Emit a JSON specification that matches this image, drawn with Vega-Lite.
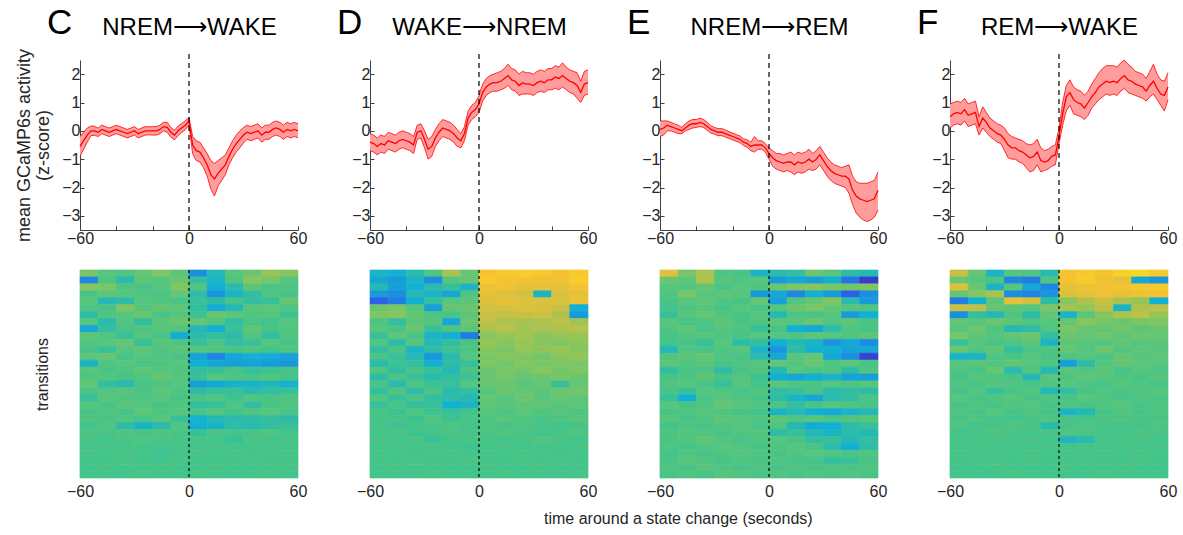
{
"$schema": "https://vega.github.io/schema/vega-lite/v6.json",
"padding": {"left": 15, "top": 6, "right": 4, "bottom": 6},
"background": "white",
"config": {
  "font": "Liberation Sans",
  "view": {"stroke": null},
  "axis": {"labelFont": "Liberation Sans", "titleFont": "Liberation Sans", "labelFontSize": 16, "labelColor": "#262626", "domainColor": "#404040", "tickColor": "#404040", "titleFontWeight": "normal", "titleColor": "#262626", "grid": false, "labelOverlap": false, "labelFlush": false},
  "title": {"font": "Liberation Sans", "fontWeight": "normal", "color": "#000000"}
},
"bounds": "flush",
"columns": 4,
"spacing": {"row": 40, "column": 72},
"title": {"text": "time around a state change (seconds)", "orient": "bottom", "anchor": "middle", "fontSize": 16, "color": "#262626", "offset": 12, "dx": 82},
"datasets": {
"C": [
{"t":-60,"m":-0.55,"l":-0.9,"h":-0.2},{"t":-58,"m":-0.35,"l":-0.65,"h":-0.05},{"t":-56,"m":-0.15,"l":-0.4,"h":0.1},{"t":-54,"m":0.0,"l":-0.17,"h":0.17},{"t":-52,"m":0.0,"l":-0.16,"h":0.16},{"t":-50,"m":-0.05,"l":-0.2,"h":0.1},{"t":-48,"m":0.05,"l":-0.1,"h":0.2},{"t":-46,"m":0.0,"l":-0.15,"h":0.15},{"t":-44,"m":-0.05,"l":-0.2,"h":0.1},{"t":-42,"m":0.0,"l":-0.15,"h":0.15},{"t":-40,"m":0.05,"l":-0.1,"h":0.2},{"t":-38,"m":0.0,"l":-0.15,"h":0.15},{"t":-36,"m":-0.05,"l":-0.2,"h":0.1},{"t":-34,"m":-0.1,"l":-0.25,"h":0.05},{"t":-32,"m":-0.05,"l":-0.2,"h":0.1},{"t":-30,"m":0.0,"l":-0.15,"h":0.15},{"t":-28,"m":-0.1,"l":-0.25,"h":0.05},{"t":-26,"m":-0.05,"l":-0.2,"h":0.1},{"t":-24,"m":0.0,"l":-0.15,"h":0.15},{"t":-22,"m":0.0,"l":-0.14,"h":0.14},{"t":-20,"m":0.0,"l":-0.15,"h":0.15},{"t":-18,"m":0.0,"l":-0.15,"h":0.15},{"t":-16,"m":0.05,"l":-0.1,"h":0.2},{"t":-14,"m":0.15,"l":0.0,"h":0.3},{"t":-12,"m":0.12,"l":-0.05,"h":0.3},{"t":-10,"m":-0.05,"l":-0.22,"h":0.12},{"t":-8,"m":-0.15,"l":-0.32,"h":0.02},{"t":-6,"m":0.0,"l":-0.17,"h":0.17},{"t":-4,"m":0.1,"l":-0.06,"h":0.26},{"t":-2,"m":0.2,"l":0.04,"h":0.36},{"t":0,"m":0.35,"l":0.22,"h":0.47},{"t":2,"m":-0.5,"l":-0.8,"h":-0.2},{"t":4,"m":-0.7,"l":-1.05,"h":-0.35},{"t":6,"m":-0.75,"l":-1.1,"h":-0.4},{"t":8,"m":-0.95,"l":-1.3,"h":-0.6},{"t":10,"m":-1.2,"l":-1.6,"h":-0.8},{"t":12,"m":-1.55,"l":-2.05,"h":-1.05},{"t":14,"m":-1.7,"l":-2.3,"h":-1.15},{"t":16,"m":-1.5,"l":-1.95,"h":-1.05},{"t":18,"m":-1.35,"l":-1.75,"h":-0.95},{"t":20,"m":-1.2,"l":-1.55,"h":-0.85},{"t":22,"m":-0.9,"l":-1.2,"h":-0.6},{"t":24,"m":-0.65,"l":-0.95,"h":-0.35},{"t":26,"m":-0.45,"l":-0.75,"h":-0.15},{"t":28,"m":-0.3,"l":-0.6,"h":0.0},{"t":30,"m":-0.15,"l":-0.42,"h":0.12},{"t":32,"m":-0.05,"l":-0.3,"h":0.2},{"t":34,"m":-0.1,"l":-0.35,"h":0.15},{"t":36,"m":-0.05,"l":-0.3,"h":0.2},{"t":38,"m":0.0,"l":-0.25,"h":0.25},{"t":40,"m":-0.15,"l":-0.4,"h":0.1},{"t":42,"m":-0.05,"l":-0.3,"h":0.2},{"t":44,"m":-0.05,"l":-0.3,"h":0.2},{"t":46,"m":0.05,"l":-0.2,"h":0.3},{"t":48,"m":0.1,"l":-0.15,"h":0.35},{"t":50,"m":0.05,"l":-0.2,"h":0.3},{"t":52,"m":-0.05,"l":-0.3,"h":0.2},{"t":54,"m":0.05,"l":-0.2,"h":0.3},{"t":56,"m":0.0,"l":-0.25,"h":0.25},{"t":58,"m":0.05,"l":-0.2,"h":0.3},{"t":60,"m":0.0,"l":-0.25,"h":0.25}
],
"D": [
{"t":-60,"m":-0.4,"l":-0.7,"h":-0.1},{"t":-58,"m":-0.45,"l":-0.75,"h":-0.15},{"t":-56,"m":-0.55,"l":-0.85,"h":-0.25},{"t":-54,"m":-0.45,"l":-0.75,"h":-0.15},{"t":-52,"m":-0.5,"l":-0.8,"h":-0.2},{"t":-50,"m":-0.35,"l":-0.65,"h":-0.05},{"t":-48,"m":-0.4,"l":-0.7,"h":-0.1},{"t":-46,"m":-0.45,"l":-0.75,"h":-0.15},{"t":-44,"m":-0.35,"l":-0.65,"h":-0.05},{"t":-42,"m":-0.3,"l":-0.6,"h":0.0},{"t":-40,"m":-0.35,"l":-0.65,"h":-0.05},{"t":-38,"m":-0.4,"l":-0.7,"h":-0.1},{"t":-36,"m":-0.5,"l":-0.8,"h":-0.2},{"t":-34,"m":-0.05,"l":-0.3,"h":0.2},{"t":-32,"m":0.0,"l":-0.25,"h":0.25},{"t":-30,"m":-0.3,"l":-0.6,"h":0.0},{"t":-28,"m":-0.65,"l":-1.0,"h":-0.3},{"t":-26,"m":-0.55,"l":-0.9,"h":-0.2},{"t":-24,"m":-0.25,"l":-0.55,"h":0.05},{"t":-22,"m":-0.05,"l":-0.35,"h":0.25},{"t":-20,"m":0.1,"l":-0.2,"h":0.4},{"t":-18,"m":0.05,"l":-0.25,"h":0.35},{"t":-16,"m":0.0,"l":-0.3,"h":0.3},{"t":-14,"m":-0.1,"l":-0.4,"h":0.2},{"t":-12,"m":-0.25,"l":-0.55,"h":0.05},{"t":-10,"m":-0.35,"l":-0.6,"h":-0.1},{"t":-8,"m":-0.1,"l":-0.35,"h":0.15},{"t":-6,"m":0.45,"l":0.2,"h":0.7},{"t":-4,"m":0.65,"l":0.4,"h":0.9},{"t":-2,"m":0.75,"l":0.5,"h":1.0},{"t":0,"m":0.95,"l":0.65,"h":1.25},{"t":2,"m":1.35,"l":1.05,"h":1.65},{"t":4,"m":1.55,"l":1.25,"h":1.85},{"t":6,"m":1.65,"l":1.35,"h":1.95},{"t":8,"m":1.7,"l":1.4,"h":2.0},{"t":10,"m":1.7,"l":1.4,"h":2.05},{"t":12,"m":1.75,"l":1.45,"h":2.1},{"t":14,"m":1.85,"l":1.5,"h":2.2},{"t":16,"m":1.95,"l":1.6,"h":2.35},{"t":18,"m":1.8,"l":1.45,"h":2.2},{"t":20,"m":1.75,"l":1.4,"h":2.15},{"t":22,"m":1.6,"l":1.25,"h":2.0},{"t":24,"m":1.7,"l":1.3,"h":2.1},{"t":26,"m":1.65,"l":1.3,"h":2.05},{"t":28,"m":1.65,"l":1.3,"h":2.05},{"t":30,"m":1.6,"l":1.25,"h":2.0},{"t":32,"m":1.7,"l":1.35,"h":2.1},{"t":34,"m":1.75,"l":1.4,"h":2.15},{"t":36,"m":1.7,"l":1.35,"h":2.1},{"t":38,"m":1.8,"l":1.45,"h":2.2},{"t":40,"m":1.8,"l":1.45,"h":2.2},{"t":42,"m":1.9,"l":1.5,"h":2.3},{"t":44,"m":1.85,"l":1.45,"h":2.25},{"t":46,"m":1.95,"l":1.55,"h":2.4},{"t":48,"m":1.85,"l":1.45,"h":2.25},{"t":50,"m":1.75,"l":1.35,"h":2.15},{"t":52,"m":1.7,"l":1.3,"h":2.1},{"t":54,"m":1.6,"l":1.15,"h":2.05},{"t":56,"m":1.35,"l":1.0,"h":1.75},{"t":58,"m":1.65,"l":1.25,"h":2.1},{"t":60,"m":1.7,"l":1.3,"h":2.15}
],
"E": [
{"t":-60,"m":0.05,"l":-0.2,"h":0.35},{"t":-58,"m":0.1,"l":-0.15,"h":0.35},{"t":-56,"m":0.2,"l":0.0,"h":0.35},{"t":-54,"m":0.15,"l":0.0,"h":0.3},{"t":-52,"m":0.1,"l":-0.05,"h":0.25},{"t":-50,"m":0.05,"l":-0.1,"h":0.2},{"t":-48,"m":0.0,"l":-0.1,"h":0.12},{"t":-46,"m":0.1,"l":0.0,"h":0.25},{"t":-44,"m":0.2,"l":0.05,"h":0.35},{"t":-42,"m":0.25,"l":0.1,"h":0.4},{"t":-40,"m":0.25,"l":0.12,"h":0.4},{"t":-38,"m":0.3,"l":0.15,"h":0.45},{"t":-36,"m":0.25,"l":0.12,"h":0.4},{"t":-34,"m":0.15,"l":0.02,"h":0.3},{"t":-32,"m":0.05,"l":-0.08,"h":0.18},{"t":-30,"m":0.0,"l":-0.12,"h":0.12},{"t":-28,"m":-0.05,"l":-0.17,"h":0.08},{"t":-26,"m":-0.05,"l":-0.17,"h":0.08},{"t":-24,"m":-0.1,"l":-0.22,"h":0.03},{"t":-22,"m":-0.15,"l":-0.27,"h":-0.03},{"t":-20,"m":-0.2,"l":-0.32,"h":-0.08},{"t":-18,"m":-0.25,"l":-0.37,"h":-0.13},{"t":-16,"m":-0.3,"l":-0.42,"h":-0.18},{"t":-14,"m":-0.4,"l":-0.52,"h":-0.28},{"t":-12,"m":-0.45,"l":-0.58,"h":-0.32},{"t":-10,"m":-0.55,"l":-0.7,"h":-0.4},{"t":-8,"m":-0.5,"l":-0.75,"h":-0.2},{"t":-6,"m":-0.5,"l":-0.65,"h":-0.35},{"t":-4,"m":-0.5,"l":-0.65,"h":-0.35},{"t":-2,"m":-0.6,"l":-0.75,"h":-0.45},{"t":0,"m":-0.8,"l":-1.0,"h":-0.6},{"t":2,"m":-0.95,"l":-1.25,"h":-0.7},{"t":4,"m":-1.05,"l":-1.35,"h":-0.8},{"t":6,"m":-1.1,"l":-1.4,"h":-0.8},{"t":8,"m":-1.15,"l":-1.45,"h":-0.85},{"t":10,"m":-1.1,"l":-1.4,"h":-0.8},{"t":12,"m":-1.1,"l":-1.45,"h":-0.75},{"t":14,"m":-1.2,"l":-1.55,"h":-0.85},{"t":16,"m":-1.1,"l":-1.45,"h":-0.75},{"t":18,"m":-1.15,"l":-1.5,"h":-0.8},{"t":20,"m":-1.1,"l":-1.45,"h":-0.75},{"t":22,"m":-1.0,"l":-1.35,"h":-0.65},{"t":24,"m":-1.1,"l":-1.4,"h":-0.8},{"t":26,"m":-1.0,"l":-1.35,"h":-0.7},{"t":28,"m":-0.85,"l":-1.2,"h":-0.55},{"t":30,"m":-1.05,"l":-1.4,"h":-0.75},{"t":32,"m":-1.25,"l":-1.6,"h":-0.95},{"t":34,"m":-1.4,"l":-1.75,"h":-1.1},{"t":36,"m":-1.5,"l":-1.85,"h":-1.2},{"t":38,"m":-1.55,"l":-1.9,"h":-1.25},{"t":40,"m":-1.6,"l":-1.95,"h":-1.3},{"t":42,"m":-1.6,"l":-2.0,"h":-1.25},{"t":44,"m":-1.7,"l":-2.2,"h":-1.2},{"t":46,"m":-2.1,"l":-2.6,"h":-1.6},{"t":48,"m":-2.3,"l":-2.9,"h":-1.8},{"t":50,"m":-2.4,"l":-3.05,"h":-1.85},{"t":52,"m":-2.45,"l":-3.15,"h":-1.85},{"t":54,"m":-2.5,"l":-3.2,"h":-1.85},{"t":56,"m":-2.45,"l":-3.15,"h":-1.8},{"t":58,"m":-2.4,"l":-3.05,"h":-1.75},{"t":60,"m":-2.1,"l":-2.8,"h":-1.45}
],
"F": [
{"t":-60,"m":0.5,"l":0.1,"h":0.95},{"t":-58,"m":0.6,"l":0.2,"h":1.0},{"t":-56,"m":0.65,"l":0.25,"h":1.05},{"t":-54,"m":0.6,"l":0.2,"h":1.0},{"t":-52,"m":0.75,"l":0.35,"h":1.15},{"t":-50,"m":0.55,"l":0.15,"h":0.95},{"t":-48,"m":0.6,"l":0.2,"h":1.0},{"t":-46,"m":0.65,"l":0.25,"h":1.05},{"t":-44,"m":0.15,"l":-0.15,"h":0.5},{"t":-42,"m":0.45,"l":0.1,"h":0.85},{"t":-40,"m":0.3,"l":-0.05,"h":0.65},{"t":-38,"m":0.1,"l":-0.2,"h":0.45},{"t":-36,"m":0.0,"l":-0.3,"h":0.35},{"t":-34,"m":-0.1,"l":-0.4,"h":0.25},{"t":-32,"m":-0.15,"l":-0.45,"h":0.2},{"t":-30,"m":-0.3,"l":-0.7,"h":0.1},{"t":-28,"m":-0.5,"l":-0.95,"h":-0.1},{"t":-26,"m":-0.6,"l":-1.0,"h":-0.2},{"t":-24,"m":-0.6,"l":-1.0,"h":-0.25},{"t":-22,"m":-0.7,"l":-1.1,"h":-0.3},{"t":-20,"m":-0.75,"l":-1.15,"h":-0.35},{"t":-18,"m":-0.85,"l":-1.3,"h":-0.45},{"t":-16,"m":-0.95,"l":-1.45,"h":-0.5},{"t":-14,"m":-0.9,"l":-1.4,"h":-0.45},{"t":-12,"m":-0.75,"l":-1.2,"h":-0.3},{"t":-10,"m":-1.05,"l":-1.45,"h":-0.6},{"t":-8,"m":-1.1,"l":-1.4,"h":-0.7},{"t":-6,"m":-1.05,"l":-1.35,"h":-0.65},{"t":-4,"m":-0.9,"l":-1.25,"h":-0.55},{"t":-2,"m":-0.85,"l":-1.2,"h":-0.5},{"t":0,"m":-0.2,"l":-0.45,"h":0.1},{"t":2,"m":0.6,"l":0.2,"h":1.0},{"t":4,"m":1.2,"l":0.7,"h":1.6},{"t":6,"m":1.35,"l":0.9,"h":1.8},{"t":8,"m":1.1,"l":0.6,"h":1.55},{"t":10,"m":1.0,"l":0.55,"h":1.45},{"t":12,"m":0.95,"l":0.5,"h":1.4},{"t":14,"m":0.8,"l":0.4,"h":1.25},{"t":16,"m":1.0,"l":0.55,"h":1.4},{"t":18,"m":1.2,"l":0.8,"h":1.65},{"t":20,"m":1.35,"l":0.95,"h":1.85},{"t":22,"m":1.55,"l":1.1,"h":2.05},{"t":24,"m":1.65,"l":1.2,"h":2.2},{"t":26,"m":1.75,"l":1.3,"h":2.3},{"t":28,"m":1.7,"l":1.25,"h":2.3},{"t":30,"m":1.75,"l":1.3,"h":2.3},{"t":32,"m":1.7,"l":1.25,"h":2.25},{"t":34,"m":1.85,"l":1.4,"h":2.4},{"t":36,"m":1.95,"l":1.5,"h":2.5},{"t":38,"m":1.8,"l":1.35,"h":2.35},{"t":40,"m":1.75,"l":1.3,"h":2.25},{"t":42,"m":1.65,"l":1.25,"h":2.1},{"t":44,"m":1.6,"l":1.2,"h":2.05},{"t":46,"m":1.55,"l":1.15,"h":2.0},{"t":48,"m":1.4,"l":1.05,"h":1.85},{"t":50,"m":1.6,"l":1.2,"h":2.1},{"t":52,"m":1.75,"l":1.3,"h":2.35},{"t":54,"m":1.5,"l":1.1,"h":2.0},{"t":56,"m":1.3,"l":0.9,"h":1.8},{"t":58,"m":1.25,"l":0.7,"h":1.75},{"t":60,"m":1.55,"l":1.1,"h":2.05}
],
"hC": [
{"r":1,"a":0.8,"b":0.3,"c":0.2,"d":0.5,"e":0.9,"f":0.4,"g":-1.8,"h":-0.6,"i":0.3,"j":0.6,"k":1.2,"l":1.0},
{"r":2,"a":-2.0,"b":0.2,"c":-0.5,"d":0.4,"e":0.3,"f":0.6,"g":-0.3,"h":-0.8,"i":0.2,"j":1.0,"k":0.8,"l":0.3},
{"r":3,"a":1.0,"b":0.8,"c":0.2,"d":0.1,"e":0.3,"f":0.9,"g":0.2,"h":-1.0,"i":-0.5,"j":0.4,"k":0.1,"l":0.2},
{"r":4,"a":0.1,"b":0.4,"c":0.3,"d":0.2,"e":0.1,"f":0.5,"g":-0.4,"h":-1.6,"i":-0.8,"j":-0.3,"k":0.2,"l":0.1},
{"r":5,"a":0.3,"b":-0.6,"c":-0.4,"d":0.3,"e":0.2,"f":0.1,"g":-0.2,"h":-0.4,"i":0.0,"j":-0.3,"k":-0.2,"l":0.5},
{"r":6,"a":0.2,"b":0.1,"c":0.9,"d":0.3,"e":0.5,"f":0.4,"g":-0.3,"h":-1.1,"i":-0.6,"j":0.3,"k":0.4,"l":0.2},
{"r":7,"a":-0.4,"b":0.2,"c":0.3,"d":0.6,"e":0.1,"f":0.3,"g":-0.1,"h":0.6,"i":0.4,"j":0.2,"k":0.3,"l":-0.1},
{"r":8,"a":0.3,"b":-0.5,"c":0.2,"d":-0.3,"e":0.4,"f":0.6,"g":0.5,"h":0.2,"i":-0.3,"j":0.1,"k":0.0,"l":0.3},
{"r":9,"a":-1.2,"b":-0.3,"c":0.1,"d":0.2,"e":0.3,"f":0.2,"g":-0.6,"h":-1.0,"i":-0.2,"j":0.4,"k":0.1,"l":0.2},
{"r":10,"a":0.4,"b":0.2,"c":-0.2,"d":0.3,"e":0.1,"f":-1.1,"g":-0.5,"h":-0.3,"i":-0.4,"j":0.2,"k":-0.3,"l":0.2},
{"r":11,"a":0.2,"b":0.3,"c":0.5,"d":-0.2,"e":0.3,"f":0.2,"g":-0.2,"h":0.1,"i":-0.3,"j":-0.2,"k":0.3,"l":0.1},
{"r":12,"a":0.1,"b":-0.2,"c":0.3,"d":0.4,"e":0.2,"f":0.4,"g":0.3,"h":0.2,"i":0.1,"j":0.2,"k":0.0,"l":0.2},
{"r":13,"a":0.4,"b":0.5,"c":0.1,"d":0.3,"e":0.2,"f":0.1,"g":-1.3,"h":-2.0,"i":-1.2,"j":-1.0,"k":-1.1,"l":-1.3},
{"r":14,"a":-0.8,"b":0.2,"c":0.3,"d":0.1,"e":0.2,"f":0.3,"g":-1.0,"h":-1.2,"i":-1.4,"j":-1.3,"k":-1.5,"l":-1.6},
{"r":15,"a":0.3,"b":0.1,"c":0.2,"d":0.4,"e":0.3,"f":0.2,"g":-0.3,"h":-0.2,"i":0.1,"j":-0.2,"k":-0.1,"l":0.1},
{"r":16,"a":0.2,"b":0.3,"c":0.1,"d":0.2,"e":0.5,"f":0.3,"g":-0.2,"h":0.3,"i":0.2,"j":0.1,"k":0.2,"l":0.0},
{"r":17,"a":0.5,"b":-0.3,"c":-0.5,"d":0.1,"e":0.2,"f":0.3,"g":-1.4,"h":-1.2,"i":-0.9,"j":-0.8,"k":-0.7,"l":-0.9},
{"r":18,"a":0.1,"b":0.2,"c":0.3,"d":0.1,"e":0.4,"f":0.2,"g":-0.4,"h":-0.3,"i":-0.2,"j":-0.5,"k":-0.3,"l":-0.2},
{"r":19,"a":-0.2,"b":0.3,"c":0.2,"d":0.2,"e":0.3,"f":0.1,"g":0.1,"h":0.2,"i":-0.1,"j":0.2,"k":0.1,"l":0.2},
{"r":20,"a":0.3,"b":0.1,"c":0.4,"d":0.3,"e":0.1,"f":0.2,"g":-0.3,"h":-0.2,"i":0.2,"j":-0.3,"k":0.1,"l":0.2},
{"r":21,"a":0.1,"b":0.2,"c":0.1,"d":0.4,"e":0.2,"f":0.3,"g":0.1,"h":0.3,"i":0.0,"j":0.2,"k":0.3,"l":0.1},
{"r":22,"a":0.2,"b":0.1,"c":0.2,"d":0.0,"e":0.3,"f":-0.2,"g":-0.9,"h":-0.6,"i":-0.5,"j":-0.4,"k":-0.3,"l":-0.4},
{"r":23,"a":0.0,"b":0.2,"c":-0.4,"d":-0.8,"e":-0.5,"f":0.2,"g":-1.0,"h":-0.8,"i":-0.4,"j":-0.5,"k":-0.3,"l":-0.2},
{"r":24,"a":0.2,"b":0.1,"c":0.2,"d":0.1,"e":0.2,"f":0.1,"g":-0.2,"h":0.1,"i":0.0,"j":0.1,"k":0.2,"l":0.0},
{"r":25,"a":0.1,"b":0.0,"c":0.1,"d":0.2,"e":0.1,"f":0.0,"g":0.1,"h":0.0,"i":-0.2,"j":0.1,"k":0.0,"l":0.1},
{"r":26,"a":0.0,"b":0.1,"c":0.0,"d":0.1,"e":0.0,"f":0.1,"g":0.0,"h":0.1,"i":0.0,"j":0.0,"k":0.1,"l":0.0},
{"r":27,"a":0.1,"b":0.0,"c":0.1,"d":0.0,"e":-0.1,"f":0.0,"g":0.1,"h":0.0,"i":0.1,"j":0.0,"k":0.0,"l":0.1},
{"r":28,"a":0.0,"b":0.0,"c":0.1,"d":0.0,"e":0.0,"f":0.1,"g":0.0,"h":0.0,"i":0.0,"j":0.1,"k":0.0,"l":0.0},
{"r":29,"a":0.0,"b":0.1,"c":0.0,"d":0.0,"e":0.1,"f":0.0,"g":0.0,"h":0.1,"i":0.0,"j":0.0,"k":0.0,"l":0.1},
{"r":30,"a":0.0,"b":0.0,"c":0.0,"d":0.1,"e":0.0,"f":0.0,"g":0.1,"h":0.0,"i":0.0,"j":0.0,"k":0.1,"l":0.0}
],
"hD": [
{"r":1,"a":-0.8,"b":-1.0,"c":-0.5,"d":0.2,"e":1.5,"f":0.5,"g":3.0,"h":3.2,"i":3.3,"j":3.2,"k":3.0,"l":3.2},
{"r":2,"a":-1.2,"b":-1.5,"c":-0.8,"d":-1.8,"e":0.3,"f":0.6,"g":3.2,"h":3.0,"i":3.0,"j":2.8,"k":2.9,"l":3.3},
{"r":3,"a":-0.6,"b":-1.4,"c":-1.0,"d":-0.5,"e":-0.2,"f":-0.8,"g":2.8,"h":2.9,"i":2.6,"j":2.7,"k":2.6,"l":3.0},
{"r":4,"a":-1.5,"b":-1.8,"c":-0.6,"d":-0.8,"e":-1.2,"f":0.2,"g":2.6,"h":2.5,"i":2.2,"j":-0.8,"k":2.4,"l":2.6},
{"r":5,"a":-2.8,"b":-2.2,"c":-1.0,"d":-0.3,"e":0.3,"f":0.4,"g":2.4,"h":2.6,"i":2.5,"j":2.4,"k":2.3,"l":2.8},
{"r":6,"a":0.6,"b":0.8,"c":0.3,"d":-1.4,"e":0.5,"f":0.6,"g":2.2,"h":2.3,"i":2.4,"j":2.3,"k":2.0,"l":-1.0},
{"r":7,"a":0.9,"b":1.0,"c":0.5,"d":0.2,"e":0.1,"f":0.4,"g":2.0,"h":1.9,"i":2.0,"j":2.1,"k":1.6,"l":-1.5},
{"r":8,"a":0.2,"b":-0.3,"c":0.4,"d":0.3,"e":-1.2,"f":0.6,"g":1.8,"h":1.6,"i":1.5,"j":1.6,"k":1.8,"l":1.4},
{"r":9,"a":0.3,"b":0.1,"c":0.6,"d":-0.2,"e":0.2,"f":0.4,"g":1.6,"h":1.8,"i":1.4,"j":1.5,"k":1.6,"l":1.7},
{"r":10,"a":-0.2,"b":0.4,"c":0.1,"d":-0.8,"e":-1.0,"f":-2.2,"g":1.0,"h":1.2,"i":1.4,"j":1.1,"k":1.2,"l":1.3},
{"r":11,"a":0.2,"b":-0.4,"c":0.3,"d":-0.6,"e":-0.3,"f":0.1,"g":1.2,"h":1.0,"i":1.3,"j":1.0,"k":0.9,"l":1.1},
{"r":12,"a":-0.3,"b":0.1,"c":-0.8,"d":-0.4,"e":-0.1,"f":0.2,"g":1.0,"h":0.8,"i":1.2,"j":1.1,"k":1.3,"l":1.0},
{"r":13,"a":0.1,"b":-0.2,"c":-0.6,"d":-1.6,"e":-0.5,"f":0.3,"g":0.8,"h":1.0,"i":0.9,"j":0.7,"k":1.0,"l":1.2},
{"r":14,"a":-0.5,"b":-0.1,"c":-0.3,"d":-1.0,"e":-0.4,"f":-0.2,"g":0.9,"h":0.7,"i":1.0,"j":0.8,"k":0.9,"l":0.8},
{"r":15,"a":0.2,"b":-0.3,"c":0.1,"d":-0.2,"e":-0.6,"f":0.1,"g":0.6,"h":0.8,"i":0.7,"j":1.0,"k":0.7,"l":0.9},
{"r":16,"a":-0.4,"b":0.1,"c":-0.2,"d":-0.5,"e":-0.3,"f":-0.1,"g":0.6,"h":0.7,"i":0.5,"j":0.6,"k":0.8,"l":0.6},
{"r":17,"a":0.1,"b":-0.5,"c":0.2,"d":-0.1,"e":-0.2,"f":0.3,"g":0.5,"h":0.6,"i":0.4,"j":0.5,"k":-0.2,"l":0.5},
{"r":18,"a":-0.3,"b":0.2,"c":-0.4,"d":0.1,"e":-0.5,"f":-0.3,"g":0.3,"h":0.6,"i":0.5,"j":0.4,"k":0.6,"l":0.7},
{"r":19,"a":0.2,"b":-0.2,"c":0.1,"d":-0.3,"e":-0.4,"f":-0.6,"g":0.5,"h":0.3,"i":0.6,"j":0.3,"k":0.5,"l":0.4},
{"r":20,"a":-0.2,"b":0.1,"c":-0.3,"d":-0.2,"e":-1.0,"f":-0.8,"g":0.4,"h":0.3,"i":0.4,"j":0.5,"k":0.3,"l":0.4},
{"r":21,"a":0.1,"b":-0.1,"c":0.2,"d":-0.1,"e":-0.2,"f":0.0,"g":0.3,"h":0.2,"i":0.4,"j":0.2,"k":0.3,"l":0.2},
{"r":22,"a":0.0,"b":0.1,"c":-0.1,"d":0.2,"e":-0.1,"f":0.1,"g":0.2,"h":0.3,"i":0.2,"j":0.1,"k":0.2,"l":0.3},
{"r":23,"a":0.1,"b":-0.1,"c":0.0,"d":0.1,"e":0.2,"f":0.0,"g":0.2,"h":0.1,"i":0.2,"j":0.1,"k":0.0,"l":0.1},
{"r":24,"a":0.0,"b":0.1,"c":-0.1,"d":0.0,"e":0.1,"f":0.1,"g":0.1,"h":0.2,"i":0.1,"j":0.0,"k":0.1,"l":0.2},
{"r":25,"a":0.1,"b":0.0,"c":0.1,"d":-0.2,"e":0.0,"f":0.1,"g":0.1,"h":0.0,"i":0.1,"j":0.2,"k":0.1,"l":0.0},
{"r":26,"a":0.0,"b":0.1,"c":0.0,"d":0.1,"e":0.0,"f":-0.1,"g":0.0,"h":0.1,"i":0.0,"j":0.1,"k":0.0,"l":0.1},
{"r":27,"a":0.1,"b":0.0,"c":0.0,"d":0.0,"e":0.1,"f":0.0,"g":0.1,"h":0.0,"i":0.1,"j":0.0,"k":0.0,"l":0.0},
{"r":28,"a":0.0,"b":0.0,"c":0.1,"d":0.0,"e":0.0,"f":0.1,"g":0.0,"h":0.0,"i":0.1,"j":0.0,"k":0.1,"l":0.0},
{"r":29,"a":0.0,"b":0.1,"c":0.0,"d":0.0,"e":0.0,"f":0.0,"g":0.1,"h":0.0,"i":0.0,"j":0.1,"k":0.0,"l":0.0},
{"r":30,"a":0.0,"b":0.0,"c":0.0,"d":0.1,"e":0.0,"f":0.0,"g":0.0,"h":0.1,"i":0.0,"j":0.0,"k":0.0,"l":0.1}
],
"hE": [
{"r":1,"a":2.5,"b":0.8,"c":1.5,"d":0.2,"e":0.1,"f":-0.8,"g":-0.5,"h":-0.3,"i":0.6,"j":0.3,"k":-0.4,"l":-0.6},
{"r":2,"a":0.6,"b":0.4,"c":1.6,"d":0.3,"e":0.2,"f":0.3,"g":-1.5,"h":-1.2,"i":-1.4,"j":-1.0,"k":-2.4,"l":-3.6},
{"r":3,"a":0.3,"b":0.2,"c":0.5,"d":0.1,"e":0.3,"f":0.2,"g":0.6,"h":0.9,"i":1.0,"j":0.8,"k":0.7,"l":0.9},
{"r":4,"a":0.2,"b":0.8,"c":0.3,"d":0.4,"e":0.3,"f":-1.5,"g":-1.2,"h":-2.0,"i":-1.0,"j":-1.5,"k":-2.8,"l":-1.8},
{"r":5,"a":0.1,"b":0.3,"c":0.4,"d":0.2,"e":0.1,"f":0.5,"g":-1.4,"h":0.2,"i":0.5,"j":0.9,"k":-0.5,"l":-1.5},
{"r":6,"a":0.0,"b":0.2,"c":0.3,"d":0.1,"e":0.3,"f":0.1,"g":0.3,"h":0.6,"i":0.8,"j":0.5,"k":0.3,"l":0.2},
{"r":7,"a":-0.2,"b":0.3,"c":0.5,"d":0.2,"e":0.1,"f":0.3,"g":-0.6,"h":0.2,"i":0.1,"j":0.3,"k":-1.5,"l":-1.0},
{"r":8,"a":0.3,"b":0.1,"c":0.2,"d":0.4,"e":0.1,"f":0.2,"g":0.4,"h":0.3,"i":0.6,"j":0.2,"k":0.4,"l":0.1},
{"r":9,"a":0.2,"b":0.4,"c":0.1,"d":0.3,"e":0.2,"f":-0.2,"g":0.1,"h":-1.0,"i":-1.2,"j":-0.4,"k":0.2,"l":0.1},
{"r":10,"a":0.1,"b":0.2,"c":0.3,"d":0.2,"e":0.1,"f":0.3,"g":0.3,"h":0.2,"i":0.4,"j":0.3,"k":0.2,"l":0.4},
{"r":11,"a":0.0,"b":0.1,"c":-0.2,"d":0.3,"e":-0.4,"f":-0.3,"g":-1.0,"h":-0.6,"i":-0.8,"j":-1.6,"k":-1.2,"l":-1.8},
{"r":12,"a":-0.6,"b":0.2,"c":0.1,"d":0.2,"e":0.3,"f":-0.8,"g":-1.6,"h":-0.4,"i":-1.0,"j":-1.0,"k":-1.3,"l":-1.2},
{"r":13,"a":0.2,"b":0.4,"c":0.5,"d":0.2,"e":0.1,"f":-0.5,"g":-1.2,"h":0.3,"i":0.5,"j":-1.2,"k":-1.8,"l":-3.5},
{"r":14,"a":0.4,"b":0.2,"c":0.3,"d":0.1,"e":0.2,"f":0.3,"g":0.5,"h":0.3,"i":0.6,"j":0.2,"k":0.4,"l":0.1},
{"r":15,"a":-0.3,"b":0.1,"c":0.2,"d":-0.4,"e":0.1,"f":0.2,"g":-0.6,"h":0.3,"i":0.1,"j":0.2,"k":-0.4,"l":0.2},
{"r":16,"a":0.1,"b":0.2,"c":0.4,"d":0.1,"e":0.3,"f":-0.1,"g":-1.0,"h":-1.2,"i":-1.0,"j":-0.8,"k":-1.3,"l":-1.4},
{"r":17,"a":0.2,"b":0.3,"c":0.1,"d":-0.2,"e":0.3,"f":0.0,"g":0.4,"h":0.2,"i":0.1,"j":0.3,"k":0.2,"l":0.3},
{"r":18,"a":0.1,"b":-0.2,"c":0.3,"d":0.2,"e":0.1,"f":0.2,"g":-0.3,"h":-0.2,"i":0.1,"j":-0.5,"k":-0.3,"l":-0.4},
{"r":19,"a":-0.2,"b":-1.0,"c":0.1,"d":0.3,"e":0.2,"f":0.1,"g":-0.4,"h":-0.8,"i":-1.2,"j":-0.5,"k":-0.3,"l":0.1},
{"r":20,"a":0.3,"b":0.1,"c":0.2,"d":0.5,"e":0.3,"f":0.2,"g":0.2,"h":-0.3,"i":0.1,"j":0.3,"k":0.2,"l":0.1},
{"r":21,"a":0.1,"b":0.2,"c":0.3,"d":0.2,"e":0.1,"f":0.0,"g":-0.8,"h":-0.6,"i":-1.0,"j":-1.2,"k":-0.8,"l":-0.6},
{"r":22,"a":0.3,"b":0.1,"c":0.2,"d":0.4,"e":0.3,"f":0.2,"g":0.4,"h":0.2,"i":0.3,"j":0.1,"k":0.2,"l":0.3},
{"r":23,"a":0.0,"b":0.2,"c":0.1,"d":0.2,"e":0.3,"f":0.1,"g":0.2,"h":-0.6,"i":-1.1,"j":-1.0,"k":-0.4,"l":-0.2},
{"r":24,"a":0.2,"b":0.3,"c":0.2,"d":0.1,"e":0.2,"f":0.3,"g":-0.4,"h":-0.2,"i":-0.6,"j":-0.8,"k":-0.5,"l":-0.6},
{"r":25,"a":0.1,"b":0.2,"c":0.4,"d":0.2,"e":0.1,"f":0.2,"g":0.3,"h":0.1,"i":-0.3,"j":-0.2,"k":-0.6,"l":-0.3},
{"r":26,"a":0.2,"b":0.1,"c":0.2,"d":0.3,"e":0.2,"f":0.1,"g":0.2,"h":0.3,"i":0.1,"j":-0.5,"k":-1.0,"l":-0.4},
{"r":27,"a":0.0,"b":0.2,"c":0.1,"d":0.2,"e":0.3,"f":0.2,"g":0.1,"h":0.2,"i":0.3,"j":0.2,"k":0.1,"l":0.2},
{"r":28,"a":0.1,"b":0.3,"c":0.2,"d":0.1,"e":0.2,"f":0.1,"g":0.2,"h":0.1,"i":0.0,"j":-0.3,"k":-0.2,"l":0.1},
{"r":29,"a":0.2,"b":0.1,"c":0.3,"d":0.2,"e":0.1,"f":0.2,"g":0.1,"h":0.2,"i":0.1,"j":0.2,"k":0.1,"l":0.2},
{"r":30,"a":0.1,"b":0.2,"c":0.1,"d":0.3,"e":0.2,"f":0.1,"g":0.2,"h":0.1,"i":0.2,"j":0.1,"k":0.2,"l":0.1}
],
"hF": [
{"r":1,"a":2.0,"b":0.5,"c":-0.8,"d":0.3,"e":0.2,"f":-0.5,"g":3.0,"h":3.2,"i":3.0,"j":3.4,"k":3.6,"l":3.2},
{"r":2,"a":0.6,"b":0.3,"c":0.1,"d":-2.0,"e":-2.2,"f":0.2,"g":3.0,"h":3.3,"i":2.8,"j":2.6,"k":-1.2,"l":-1.6},
{"r":3,"a":2.4,"b":0.6,"c":-0.8,"d":0.3,"e":-1.2,"f":-2.0,"g":2.6,"h":2.8,"i":2.9,"j":3.0,"k":3.1,"l":3.2},
{"r":4,"a":0.5,"b":1.0,"c":1.5,"d":-1.8,"e":-2.0,"f":-1.6,"g":2.4,"h":2.6,"i":2.8,"j":2.7,"k":2.8,"l":3.0},
{"r":5,"a":-2.2,"b":-1.0,"c":0.4,"d":2.6,"e":2.2,"f":-0.4,"g":1.0,"h":1.6,"i":2.0,"j":1.5,"k":1.2,"l":-1.0},
{"r":6,"a":2.0,"b":1.8,"c":0.6,"d":0.4,"e":0.3,"f":0.8,"g":1.4,"h":1.2,"i":1.8,"j":-0.8,"k":1.6,"l":1.8},
{"r":7,"a":-1.8,"b":-0.3,"c":-0.6,"d":0.2,"e":-0.4,"f":0.5,"g":-0.8,"h":0.4,"i":1.0,"j":1.6,"k":1.8,"l":1.2},
{"r":8,"a":0.5,"b":0.3,"c":0.6,"d":0.4,"e":0.2,"f":0.3,"g":0.5,"h":1.0,"i":0.8,"j":0.6,"k":0.8,"l":0.9},
{"r":9,"a":0.3,"b":0.6,"c":0.2,"d":-0.6,"e":-0.4,"f":0.2,"g":0.8,"h":0.6,"i":0.5,"j":0.7,"k":0.4,"l":0.6},
{"r":10,"a":0.8,"b":0.4,"c":0.3,"d":0.5,"e":0.6,"f":-0.3,"g":0.6,"h":0.5,"i":0.7,"j":0.4,"k":0.6,"l":0.5},
{"r":11,"a":-0.2,"b":0.3,"c":0.1,"d":0.2,"e":0.4,"f":-0.8,"g":0.4,"h":0.3,"i":0.2,"j":0.5,"k":0.3,"l":0.4},
{"r":12,"a":0.6,"b":0.2,"c":0.4,"d":-0.3,"e":0.1,"f":0.2,"g":0.5,"h":0.3,"i":0.6,"j":0.2,"k":0.4,"l":0.3},
{"r":13,"a":-0.9,"b":-0.8,"c":0.2,"d":0.1,"e":0.3,"f":0.1,"g":0.2,"h":0.3,"i":0.1,"j":0.5,"k":0.3,"l":0.4},
{"r":14,"a":0.3,"b":0.4,"c":0.2,"d":0.5,"e":0.3,"f":0.2,"g":-1.4,"h":-0.4,"i":0.3,"j":0.5,"k":0.4,"l":0.3},
{"r":15,"a":0.2,"b":0.1,"c":0.5,"d":-0.5,"e":0.2,"f":-0.6,"g":0.3,"h":0.2,"i":0.4,"j":0.1,"k":0.3,"l":0.2},
{"r":16,"a":0.1,"b":0.3,"c":0.2,"d":0.1,"e":-0.6,"f":0.3,"g":0.2,"h":0.4,"i":0.3,"j":0.2,"k":0.1,"l":0.3},
{"r":17,"a":0.2,"b":0.1,"c":0.3,"d":0.2,"e":0.1,"f":0.2,"g":0.3,"h":0.2,"i":0.1,"j":0.3,"k":0.2,"l":0.1},
{"r":18,"a":0.1,"b":0.2,"c":-0.2,"d":0.1,"e":0.2,"f":-0.6,"g":-0.3,"h":0.1,"i":0.2,"j":0.1,"k":0.2,"l":0.3},
{"r":19,"a":0.3,"b":0.1,"c":0.2,"d":0.3,"e":0.1,"f":0.2,"g":0.1,"h":0.3,"i":0.2,"j":0.1,"k":0.2,"l":0.1},
{"r":20,"a":0.1,"b":0.2,"c":0.1,"d":0.2,"e":0.3,"f":0.1,"g":0.2,"h":0.1,"i":0.2,"j":0.3,"k":0.1,"l":0.2},
{"r":21,"a":0.2,"b":0.1,"c":0.3,"d":0.1,"e":0.2,"f":0.1,"g":-0.8,"h":-0.6,"i":0.1,"j":0.2,"k":0.1,"l":0.2},
{"r":22,"a":0.1,"b":0.2,"c":0.1,"d":0.0,"e":0.1,"f":0.2,"g":0.1,"h":0.0,"i":0.1,"j":0.2,"k":0.1,"l":0.1},
{"r":23,"a":0.2,"b":0.0,"c":0.1,"d":0.2,"e":0.1,"f":-0.5,"g":0.1,"h":0.2,"i":0.1,"j":0.0,"k":0.1,"l":0.2},
{"r":24,"a":0.0,"b":0.1,"c":0.2,"d":0.1,"e":0.0,"f":0.1,"g":0.2,"h":0.1,"i":0.0,"j":0.1,"k":0.2,"l":0.1},
{"r":25,"a":0.1,"b":0.0,"c":0.1,"d":0.0,"e":0.1,"f":0.0,"g":-0.7,"h":-0.5,"i":0.1,"j":0.0,"k":0.1,"l":0.0},
{"r":26,"a":0.0,"b":0.1,"c":0.0,"d":0.1,"e":0.0,"f":0.1,"g":0.0,"h":0.1,"i":0.0,"j":0.1,"k":0.0,"l":0.1},
{"r":27,"a":0.1,"b":0.0,"c":0.1,"d":0.0,"e":0.1,"f":0.0,"g":0.1,"h":0.0,"i":0.1,"j":0.0,"k":0.1,"l":0.0},
{"r":28,"a":0.0,"b":0.1,"c":0.0,"d":0.0,"e":0.1,"f":0.0,"g":0.0,"h":0.1,"i":0.0,"j":0.0,"k":0.1,"l":0.0},
{"r":29,"a":0.0,"b":0.0,"c":0.1,"d":0.0,"e":0.0,"f":0.0,"g":0.1,"h":0.0,"i":0.0,"j":0.1,"k":0.0,"l":0.0},
{"r":30,"a":0.0,"b":0.0,"c":0.0,"d":0.1,"e":0.0,"f":0.0,"g":0.0,"h":0.0,"i":0.1,"j":0.0,"k":0.0,"l":0.0}
]
},
"concat": [
{"width": 218, "height": 170,
 "title": {"text": "C", "anchor": "start", "frame": "group", "dx": -33, "dy": 30, "fontSize": 35},
 "resolve": {"axis": {"x": "independent"}},
 "layer": [
  {"data": {"name": "C"}, "mark": {"type": "area", "color": "#ff9c9c", "opacity": 1},
   "encoding": {"x": {"field": "t", "type": "quantitative", "scale": {"domain": [-60, 60], "nice": false}, "axis": {"values": [-60,-40,-20,0,20,40,60], "labelExpr": "datum.value % 60 === 0 ? datum.label : ''", "title": null, "tickSize": -4, "labelPadding": 4, "labelOverlap": false, "labelFlush": false}},
                "y": {"field": "l", "type": "quantitative", "scale": {"domain": [-3.5, 2.5], "nice": false, "zero": false}, "axis": {"values": [-3,-2,-1,0,1,2], "tickSize": -4, "labelPadding": 4, "labelOverlap": false, "title": ["mean GCaMP6s activity", "(z-score)"], "titleFontSize": 18, "titleLineHeight": 19, "titlePadding": 9}},
                "y2": {"field": "h"}}},
  {"data": {"name": "C"}, "mark": {"type": "line", "color": "#ff0000", "strokeWidth": 0.8}, "encoding": {"x": {"field": "t", "type": "quantitative", "axis": null}, "y": {"field": "l", "type": "quantitative", "axis": {"values": [-3,-2,-1,0,1,2], "tickSize": -4, "labelPadding": 4, "labelOverlap": false, "title": ["mean GCaMP6s activity", "(z-score)"], "titleFontSize": 18, "titleLineHeight": 19, "titlePadding": 9}}}},
  {"data": {"name": "C"}, "mark": {"type": "line", "color": "#ff0000", "strokeWidth": 0.8}, "encoding": {"x": {"field": "t", "type": "quantitative", "axis": null}, "y": {"field": "h", "type": "quantitative", "axis": {"values": [-3,-2,-1,0,1,2], "tickSize": -4, "labelPadding": 4, "labelOverlap": false, "title": ["mean GCaMP6s activity", "(z-score)"], "titleFontSize": 18, "titleLineHeight": 19, "titlePadding": 9}}}},
  {"data": {"name": "C"}, "mark": {"type": "line", "color": "#ff0000", "strokeWidth": 1.3}, "encoding": {"x": {"field": "t", "type": "quantitative", "axis": null}, "y": {"field": "m", "type": "quantitative", "axis": {"values": [-3,-2,-1,0,1,2], "tickSize": -4, "labelPadding": 4, "labelOverlap": false, "title": ["mean GCaMP6s activity", "(z-score)"], "titleFontSize": 18, "titleLineHeight": 19, "titlePadding": 9}}}},
  {"data": {"values": [{}]}, "mark": {"type": "rule", "color": "#000000", "strokeDash": [5, 4], "strokeWidth": 1.2},
   "encoding": {"x": {"datum": 0, "type": "quantitative", "axis": {"orient": "top", "title": "NREM⟶WAKE", "labels": false, "ticks": false, "domain": false, "titleFontSize": 24, "titleColor": "#000000", "titlePadding": 21}}, "y": {"datum": -3.5, "type": "quantitative", "axis": {"values": [-3,-2,-1,0,1,2], "tickSize": -4, "labelPadding": 4, "labelOverlap": false, "title": ["mean GCaMP6s activity", "(z-score)"], "titleFontSize": 18, "titleLineHeight": 19, "titlePadding": 9}}, "y2": {"datum": 2.85}}}
 ]},
{"width": 218, "height": 170,
 "title": {"text": "D", "anchor": "start", "frame": "group", "dx": -33, "dy": 30, "fontSize": 35},
 "resolve": {"axis": {"x": "independent"}},
 "layer": [
  {"data": {"name": "D"}, "mark": {"type": "area", "color": "#ff9c9c", "opacity": 1},
   "encoding": {"x": {"field": "t", "type": "quantitative", "scale": {"domain": [-60, 60], "nice": false}, "axis": {"values": [-60,-40,-20,0,20,40,60], "labelExpr": "datum.value % 60 === 0 ? datum.label : ''", "title": null, "tickSize": -4, "labelPadding": 4, "labelOverlap": false, "labelFlush": false}},
                "y": {"field": "l", "type": "quantitative", "scale": {"domain": [-3.5, 2.5], "nice": false, "zero": false}, "axis": {"values": [-3,-2,-1,0,1,2], "tickSize": -4, "labelPadding": 4, "labelOverlap": false, "title": null}},
                "y2": {"field": "h"}}},
  {"data": {"name": "D"}, "mark": {"type": "line", "color": "#ff0000", "strokeWidth": 0.8}, "encoding": {"x": {"field": "t", "type": "quantitative", "axis": null}, "y": {"field": "l", "type": "quantitative", "axis": {"values": [-3,-2,-1,0,1,2], "tickSize": -4, "labelPadding": 4, "labelOverlap": false, "title": null}}}},
  {"data": {"name": "D"}, "mark": {"type": "line", "color": "#ff0000", "strokeWidth": 0.8}, "encoding": {"x": {"field": "t", "type": "quantitative", "axis": null}, "y": {"field": "h", "type": "quantitative", "axis": {"values": [-3,-2,-1,0,1,2], "tickSize": -4, "labelPadding": 4, "labelOverlap": false, "title": null}}}},
  {"data": {"name": "D"}, "mark": {"type": "line", "color": "#ff0000", "strokeWidth": 1.3}, "encoding": {"x": {"field": "t", "type": "quantitative", "axis": null}, "y": {"field": "m", "type": "quantitative", "axis": {"values": [-3,-2,-1,0,1,2], "tickSize": -4, "labelPadding": 4, "labelOverlap": false, "title": null}}}},
  {"data": {"values": [{}]}, "mark": {"type": "rule", "color": "#000000", "strokeDash": [5, 4], "strokeWidth": 1.2},
   "encoding": {"x": {"datum": 0, "type": "quantitative", "axis": {"orient": "top", "title": "WAKE⟶NREM", "labels": false, "ticks": false, "domain": false, "titleFontSize": 24, "titleColor": "#000000", "titlePadding": 21}}, "y": {"datum": -3.5, "type": "quantitative", "axis": {"values": [-3,-2,-1,0,1,2], "tickSize": -4, "labelPadding": 4, "labelOverlap": false, "title": null}}, "y2": {"datum": 2.85}}}
 ]},
{"width": 218, "height": 170,
 "title": {"text": "E", "anchor": "start", "frame": "group", "dx": -33, "dy": 30, "fontSize": 35},
 "resolve": {"axis": {"x": "independent"}},
 "layer": [
  {"data": {"name": "E"}, "mark": {"type": "area", "color": "#ff9c9c", "opacity": 1},
   "encoding": {"x": {"field": "t", "type": "quantitative", "scale": {"domain": [-60, 60], "nice": false}, "axis": {"values": [-60,-40,-20,0,20,40,60], "labelExpr": "datum.value % 60 === 0 ? datum.label : ''", "title": null, "tickSize": -4, "labelPadding": 4, "labelOverlap": false, "labelFlush": false}},
                "y": {"field": "l", "type": "quantitative", "scale": {"domain": [-3.5, 2.5], "nice": false, "zero": false}, "axis": {"values": [-3,-2,-1,0,1,2], "tickSize": -4, "labelPadding": 4, "labelOverlap": false, "title": null}},
                "y2": {"field": "h"}}},
  {"data": {"name": "E"}, "mark": {"type": "line", "color": "#ff0000", "strokeWidth": 0.8}, "encoding": {"x": {"field": "t", "type": "quantitative", "axis": null}, "y": {"field": "l", "type": "quantitative", "axis": {"values": [-3,-2,-1,0,1,2], "tickSize": -4, "labelPadding": 4, "labelOverlap": false, "title": null}}}},
  {"data": {"name": "E"}, "mark": {"type": "line", "color": "#ff0000", "strokeWidth": 0.8}, "encoding": {"x": {"field": "t", "type": "quantitative", "axis": null}, "y": {"field": "h", "type": "quantitative", "axis": {"values": [-3,-2,-1,0,1,2], "tickSize": -4, "labelPadding": 4, "labelOverlap": false, "title": null}}}},
  {"data": {"name": "E"}, "mark": {"type": "line", "color": "#ff0000", "strokeWidth": 1.3}, "encoding": {"x": {"field": "t", "type": "quantitative", "axis": null}, "y": {"field": "m", "type": "quantitative", "axis": {"values": [-3,-2,-1,0,1,2], "tickSize": -4, "labelPadding": 4, "labelOverlap": false, "title": null}}}},
  {"data": {"values": [{}]}, "mark": {"type": "rule", "color": "#000000", "strokeDash": [5, 4], "strokeWidth": 1.2},
   "encoding": {"x": {"datum": 0, "type": "quantitative", "axis": {"orient": "top", "title": "NREM⟶REM", "labels": false, "ticks": false, "domain": false, "titleFontSize": 24, "titleColor": "#000000", "titlePadding": 21}}, "y": {"datum": -3.5, "type": "quantitative", "axis": {"values": [-3,-2,-1,0,1,2], "tickSize": -4, "labelPadding": 4, "labelOverlap": false, "title": null}}, "y2": {"datum": 2.85}}}
 ]},
{"width": 218, "height": 170,
 "title": {"text": "F", "anchor": "start", "frame": "group", "dx": -33, "dy": 30, "fontSize": 35},
 "resolve": {"axis": {"x": "independent"}},
 "layer": [
  {"data": {"name": "F"}, "mark": {"type": "area", "color": "#ff9c9c", "opacity": 1},
   "encoding": {"x": {"field": "t", "type": "quantitative", "scale": {"domain": [-60, 60], "nice": false}, "axis": {"values": [-60,-40,-20,0,20,40,60], "labelExpr": "datum.value % 60 === 0 ? datum.label : ''", "title": null, "tickSize": -4, "labelPadding": 4, "labelOverlap": false, "labelFlush": false}},
                "y": {"field": "l", "type": "quantitative", "scale": {"domain": [-3.5, 2.5], "nice": false, "zero": false}, "axis": {"values": [-3,-2,-1,0,1,2], "tickSize": -4, "labelPadding": 4, "labelOverlap": false, "title": null}},
                "y2": {"field": "h"}}},
  {"data": {"name": "F"}, "mark": {"type": "line", "color": "#ff0000", "strokeWidth": 0.8}, "encoding": {"x": {"field": "t", "type": "quantitative", "axis": null}, "y": {"field": "l", "type": "quantitative", "axis": {"values": [-3,-2,-1,0,1,2], "tickSize": -4, "labelPadding": 4, "labelOverlap": false, "title": null}}}},
  {"data": {"name": "F"}, "mark": {"type": "line", "color": "#ff0000", "strokeWidth": 0.8}, "encoding": {"x": {"field": "t", "type": "quantitative", "axis": null}, "y": {"field": "h", "type": "quantitative", "axis": {"values": [-3,-2,-1,0,1,2], "tickSize": -4, "labelPadding": 4, "labelOverlap": false, "title": null}}}},
  {"data": {"name": "F"}, "mark": {"type": "line", "color": "#ff0000", "strokeWidth": 1.3}, "encoding": {"x": {"field": "t", "type": "quantitative", "axis": null}, "y": {"field": "m", "type": "quantitative", "axis": {"values": [-3,-2,-1,0,1,2], "tickSize": -4, "labelPadding": 4, "labelOverlap": false, "title": null}}}},
  {"data": {"values": [{}]}, "mark": {"type": "rule", "color": "#000000", "strokeDash": [5, 4], "strokeWidth": 1.2},
   "encoding": {"x": {"datum": 0, "type": "quantitative", "axis": {"orient": "top", "title": "REM⟶WAKE", "labels": false, "ticks": false, "domain": false, "titleFontSize": 24, "titleColor": "#000000", "titlePadding": 21}}, "y": {"datum": -3.5, "type": "quantitative", "axis": {"values": [-3,-2,-1,0,1,2], "tickSize": -4, "labelPadding": 4, "labelOverlap": false, "title": null}}, "y2": {"datum": 2.85}}}
 ]},
{"width": 218, "height": 208,
 "resolve": {"scale": {"x": "independent"}},
 "layer": [
  {"data": {"name": "hC"}, "transform": [{"fold": ["a","b","c","d","e","f","g","h","i","j","k","l"], "as": ["k", "v"]}],
   "mark": {"type": "rect", "strokeWidth": 0.7},
   "encoding": {"x": {"field": "k", "type": "ordinal", "axis": null, "scale": {"paddingInner": 0, "paddingOuter": 0}},
                "y": {"field": "r", "type": "ordinal", "scale": {"paddingInner": 0, "paddingOuter": 0}, "axis": {"title": "transitions", "labels": false, "ticks": false, "domain": false, "titleFontSize": 16, "titlePadding": 30}},
                "color": {"field": "v", "type": "quantitative", "legend": null, "scale": {"domain": [-4,-3,-2,-1,0,1,2,3,4], "range": ["#3c2cbf","#2f58e6","#1f86e2","#12b0d2","#42c48a","#86c65e","#c9c043","#f6c232","#f8e51e"], "interpolate": "rgb"}},
                "stroke": {"field": "v", "type": "quantitative", "legend": null, "scale": {"domain": [-4,-3,-2,-1,0,1,2,3,4], "range": ["#3c2cbf","#2f58e6","#1f86e2","#12b0d2","#42c48a","#86c65e","#c9c043","#f6c232","#f8e51e"], "interpolate": "rgb"}}}},
  {"data": {"values": [{}]}, "mark": {"type": "rule", "color": "#000000", "strokeDash": [3, 3], "strokeWidth": 1.2},
   "encoding": {"x": {"datum": 0, "type": "quantitative", "scale": {"domain": [-60, 60], "nice": false}, "axis": {"values": [-60, 0, 60], "domain": false, "ticks": false, "labelPadding": 5, "labelOverlap": false, "labelFlush": false, "title": null}}}}
 ]},
{"width": 218, "height": 208,
 "resolve": {"scale": {"x": "independent"}},
 "layer": [
  {"data": {"name": "hD"}, "transform": [{"fold": ["a","b","c","d","e","f","g","h","i","j","k","l"], "as": ["k", "v"]}],
   "mark": {"type": "rect", "strokeWidth": 0.7},
   "encoding": {"x": {"field": "k", "type": "ordinal", "axis": null, "scale": {"paddingInner": 0, "paddingOuter": 0}},
                "y": {"field": "r", "type": "ordinal", "scale": {"paddingInner": 0, "paddingOuter": 0}, "axis": null},
                "color": {"field": "v", "type": "quantitative", "legend": null, "scale": {"domain": [-4,-3,-2,-1,0,1,2,3,4], "range": ["#3c2cbf","#2f58e6","#1f86e2","#12b0d2","#42c48a","#86c65e","#c9c043","#f6c232","#f8e51e"], "interpolate": "rgb"}},
                "stroke": {"field": "v", "type": "quantitative", "legend": null, "scale": {"domain": [-4,-3,-2,-1,0,1,2,3,4], "range": ["#3c2cbf","#2f58e6","#1f86e2","#12b0d2","#42c48a","#86c65e","#c9c043","#f6c232","#f8e51e"], "interpolate": "rgb"}}}},
  {"data": {"values": [{}]}, "mark": {"type": "rule", "color": "#000000", "strokeDash": [3, 3], "strokeWidth": 1.2},
   "encoding": {"x": {"datum": 0, "type": "quantitative", "scale": {"domain": [-60, 60], "nice": false}, "axis": {"values": [-60, 0, 60], "domain": false, "ticks": false, "labelPadding": 5, "labelOverlap": false, "labelFlush": false, "title": null}}}}
 ]},
{"width": 218, "height": 208,
 "resolve": {"scale": {"x": "independent"}},
 "layer": [
  {"data": {"name": "hE"}, "transform": [{"fold": ["a","b","c","d","e","f","g","h","i","j","k","l"], "as": ["k", "v"]}],
   "mark": {"type": "rect", "strokeWidth": 0.7},
   "encoding": {"x": {"field": "k", "type": "ordinal", "axis": null, "scale": {"paddingInner": 0, "paddingOuter": 0}},
                "y": {"field": "r", "type": "ordinal", "scale": {"paddingInner": 0, "paddingOuter": 0}, "axis": null},
                "color": {"field": "v", "type": "quantitative", "legend": null, "scale": {"domain": [-4,-3,-2,-1,0,1,2,3,4], "range": ["#3c2cbf","#2f58e6","#1f86e2","#12b0d2","#42c48a","#86c65e","#c9c043","#f6c232","#f8e51e"], "interpolate": "rgb"}},
                "stroke": {"field": "v", "type": "quantitative", "legend": null, "scale": {"domain": [-4,-3,-2,-1,0,1,2,3,4], "range": ["#3c2cbf","#2f58e6","#1f86e2","#12b0d2","#42c48a","#86c65e","#c9c043","#f6c232","#f8e51e"], "interpolate": "rgb"}}}},
  {"data": {"values": [{}]}, "mark": {"type": "rule", "color": "#000000", "strokeDash": [3, 3], "strokeWidth": 1.2},
   "encoding": {"x": {"datum": 0, "type": "quantitative", "scale": {"domain": [-60, 60], "nice": false}, "axis": {"values": [-60, 0, 60], "domain": false, "ticks": false, "labelPadding": 5, "labelOverlap": false, "labelFlush": false, "title": null}}}}
 ]},
{"width": 218, "height": 208,
 "resolve": {"scale": {"x": "independent"}},
 "layer": [
  {"data": {"name": "hF"}, "transform": [{"fold": ["a","b","c","d","e","f","g","h","i","j","k","l"], "as": ["k", "v"]}],
   "mark": {"type": "rect", "strokeWidth": 0.7},
   "encoding": {"x": {"field": "k", "type": "ordinal", "axis": null, "scale": {"paddingInner": 0, "paddingOuter": 0}},
                "y": {"field": "r", "type": "ordinal", "scale": {"paddingInner": 0, "paddingOuter": 0}, "axis": null},
                "color": {"field": "v", "type": "quantitative", "legend": null, "scale": {"domain": [-4,-3,-2,-1,0,1,2,3,4], "range": ["#3c2cbf","#2f58e6","#1f86e2","#12b0d2","#42c48a","#86c65e","#c9c043","#f6c232","#f8e51e"], "interpolate": "rgb"}},
                "stroke": {"field": "v", "type": "quantitative", "legend": null, "scale": {"domain": [-4,-3,-2,-1,0,1,2,3,4], "range": ["#3c2cbf","#2f58e6","#1f86e2","#12b0d2","#42c48a","#86c65e","#c9c043","#f6c232","#f8e51e"], "interpolate": "rgb"}}}},
  {"data": {"values": [{}]}, "mark": {"type": "rule", "color": "#000000", "strokeDash": [3, 3], "strokeWidth": 1.2},
   "encoding": {"x": {"datum": 0, "type": "quantitative", "scale": {"domain": [-60, 60], "nice": false}, "axis": {"values": [-60, 0, 60], "domain": false, "ticks": false, "labelPadding": 5, "labelOverlap": false, "labelFlush": false, "title": null}}}}
 ]}
]
}
